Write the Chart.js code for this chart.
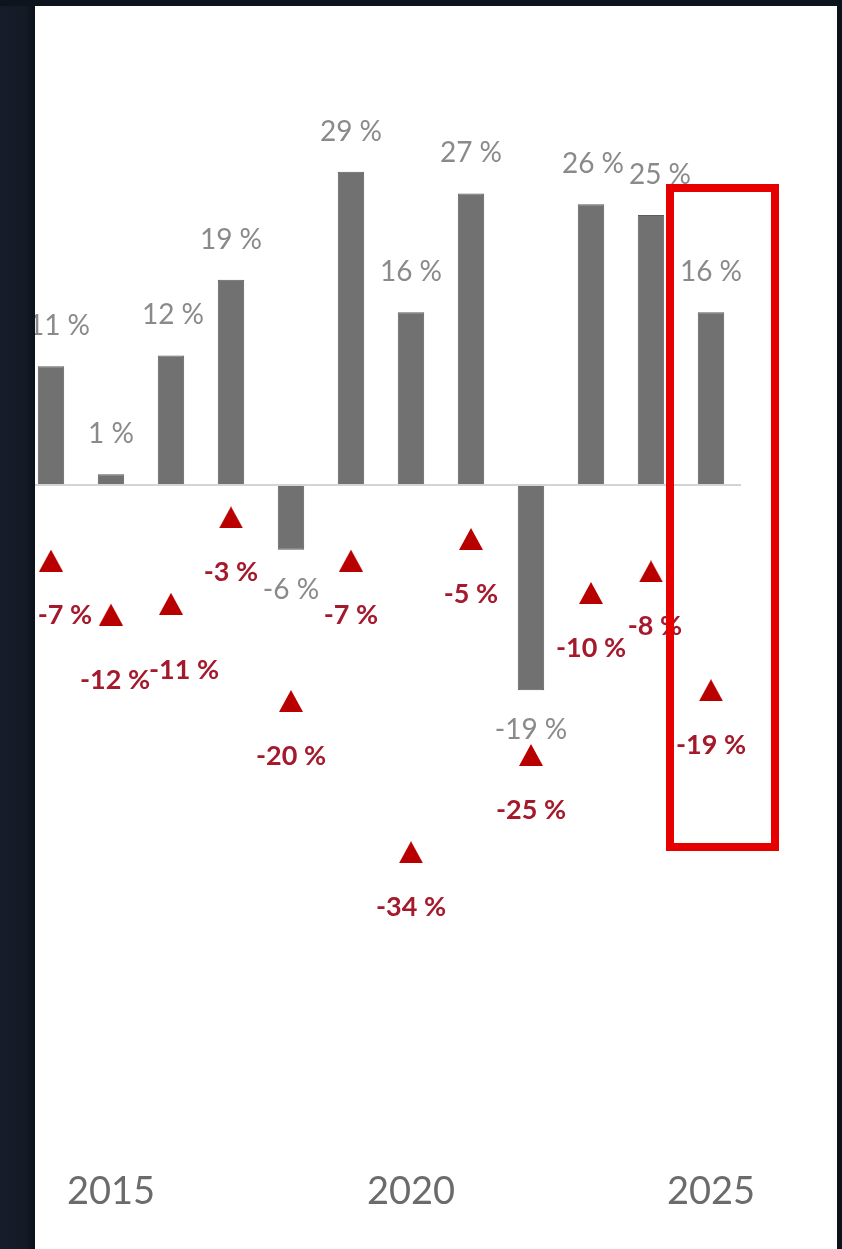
<!DOCTYPE html>
<html>
<head>
<meta charset="utf-8">
<script src="https://cdn.jsdelivr.net/npm/chart.js@4"></script>
<style>
  html, body { margin: 0; padding: 0; background: #ffffff; }
  body { width: 842px; height: 1249px; position: relative; overflow: hidden; }
  #wrap { position: absolute; left: 0; top: 0; width: 842px; height: 1249px; }
  .edge { position: absolute; background: #121925; }
  #edgeLeft { left: 0; top: 0; width: 35px; height: 1249px;
              background: linear-gradient(to right, #161d2a 0%, #141b27 70%, #0b111a 100%); }
  #edgeTop { left: 0; top: 0; width: 842px; height: 6px; background: #0e141d; }
  #edgeRight { left: 837px; top: 0; width: 5px; height: 1249px; background: #0c121b; }
</style>
</head>
<body>
<div id="wrap"><canvas id="myChart" width="842" height="1249"></canvas></div>
<div class="edge" id="edgeLeft"></div>
<div class="edge" id="edgeTop"></div>
<div class="edge" id="edgeRight"></div>
<script>
    "use strict";
    /* data */
    var years = ['2014', '2015', '2016', '2017', '2018', '2019', '2020', '2021', '2022', '2023', '2024', '2025'];
    var yearly = [11, 1, 12, 19, -6, 29, 16, 27, -19, 26, 25, 16];          // grey bars
    var drawdown = [-7, -12, -11, -3, -20, -7, -34, -5, -25, -10, -8, -19];  // red triangles
    var shownYears = ['2015', '2020', '2025'];
    var highlightYear = '2025';

    var barGrey = '#717171';
    var labelGrey = '#8a8a8a';
    var dropRed = '#b80000';
    var dropText = '#a41a2c';

    /* little hand nudges for labels that sit crowded in the original */
    var dropNudge = { '2014': [14, 0], '2015': [4, 11], '2016': [13, 11], '2024': [4, 0] };
    var barNudge = { '2014': [8, 0], '2016': [2, 0], '2023': [2, 0], '2024': [9, 0] };

    /* triangle marker, centred on its own box so it sits on the value */
    function makeTriangle(w, h, color) {
        var c = document.createElement('canvas');
        c.width = w;
        c.height = h;
        var g = c.getContext('2d');
        g.fillStyle = color;
        g.beginPath();
        g.moveTo(w / 2, 0);
        g.lineTo(w, h);
        g.lineTo(0, h);
        g.closePath();
        g.fill();
        return c;
    }
    var triangle = makeTriangle(24, 22, dropRed);

    var labelsPlugin = {
        id: 'valueLabels',
        afterDatasetsDraw: function (chart) {
            var ctx = chart.ctx;
            var bars = chart.getDatasetMeta(0).data;
            var pts = chart.getDatasetMeta(1).data;
            ctx.save();
            ctx.textAlign = 'center';
            ctx.textBaseline = 'middle';

            ctx.font = '400 28px Lato';
            ctx.fillStyle = labelGrey;
            for (var i = 0; i < bars.length; i++) {
                var v = yearly[i];
                var n = barNudge[years[i]] || [0, 0];
                var y = v >= 0 ? bars[i].y - 40 : bars[i].y + 40;
                ctx.fillText(v + ' %', bars[i].x + n[0], y + n[1]);
            }

            ctx.font = '700 27px Lato';
            ctx.fillStyle = dropText;
            for (var j = 0; j < pts.length; j++) {
                var m = dropNudge[years[j]] || [0, 0];
                ctx.fillText(drawdown[j] + ' %', pts[j].x + m[0], pts[j].y + 55 + m[1]);
            }
            ctx.restore();
        }
    };

    var highlightPlugin = {
        id: 'highlightBox',
        afterDraw: function (chart) {
            var ctx = chart.ctx;
            var x = chart.scales.x.getPixelForValue(years.indexOf(highlightYear));
            var zero = chart.scales.y.getPixelForValue(0);
            ctx.save();
            ctx.strokeStyle = '#e60000';
            ctx.lineWidth = 8;
            ctx.strokeRect(x - 41, zero - 297, 105, 659);
            ctx.restore();
        }
    };

    var ctx = document.getElementById('myChart');
    var chart = new Chart(ctx, {
        data: {
            labels: years,
            datasets: [{
                type: 'bar',
                data: yearly,
                backgroundColor: barGrey,
                borderColor: '#5c5c5c',
                borderWidth: 1,
                categoryPercentage: 1,
                barPercentage: 0.44,
                order: 2
            }, {
                type: 'line',
                data: drawdown,
                showLine: false,
                pointStyle: triangle,
                pointRadius: 12,
                pointHoverRadius: 12,
                order: 1
            }]
        },
        options: {
            responsive: false,
            animation: false,
            events: [],
            layout: { padding: { left: 21, right: 101, top: 53, bottom: 0 } },
            plugins: { legend: { display: false }, tooltip: { enabled: false } },
            scales: {
                x: {
                    offset: true,
                    grid: { display: false },
                    border: { display: false },
                    ticks: {
                        autoSkip: false,
                        maxRotation: 0,
                        padding: 28,
                        color: '#6b6b6b',
                        font: { family: 'Lato', size: 38 },
                        callback: function (value) {
                            var lab = this.getLabelForValue(value);
                            return shownYears.indexOf(lab) >= 0 ? lab : '';
                        }
                    },
                    afterFit: function (scale) { scale.height = 116; }
                },
                y: {
                    min: -60,
                    max: 40,
                    ticks: { display: false, stepSize: 10 },
                    border: { display: false },
                    grid: {
                        drawTicks: false,
                        lineWidth: 2,
                        color: function (c) { return c.tick && c.tick.value === 0 ? '#d4d4d4' : 'rgba(0,0,0,0)'; }
                    },
                    afterFit: function (scale) { scale.width = 0; }
                }
            }
        },
        plugins: [labelsPlugin, highlightPlugin]
    });
</script>
</body>
</html>
